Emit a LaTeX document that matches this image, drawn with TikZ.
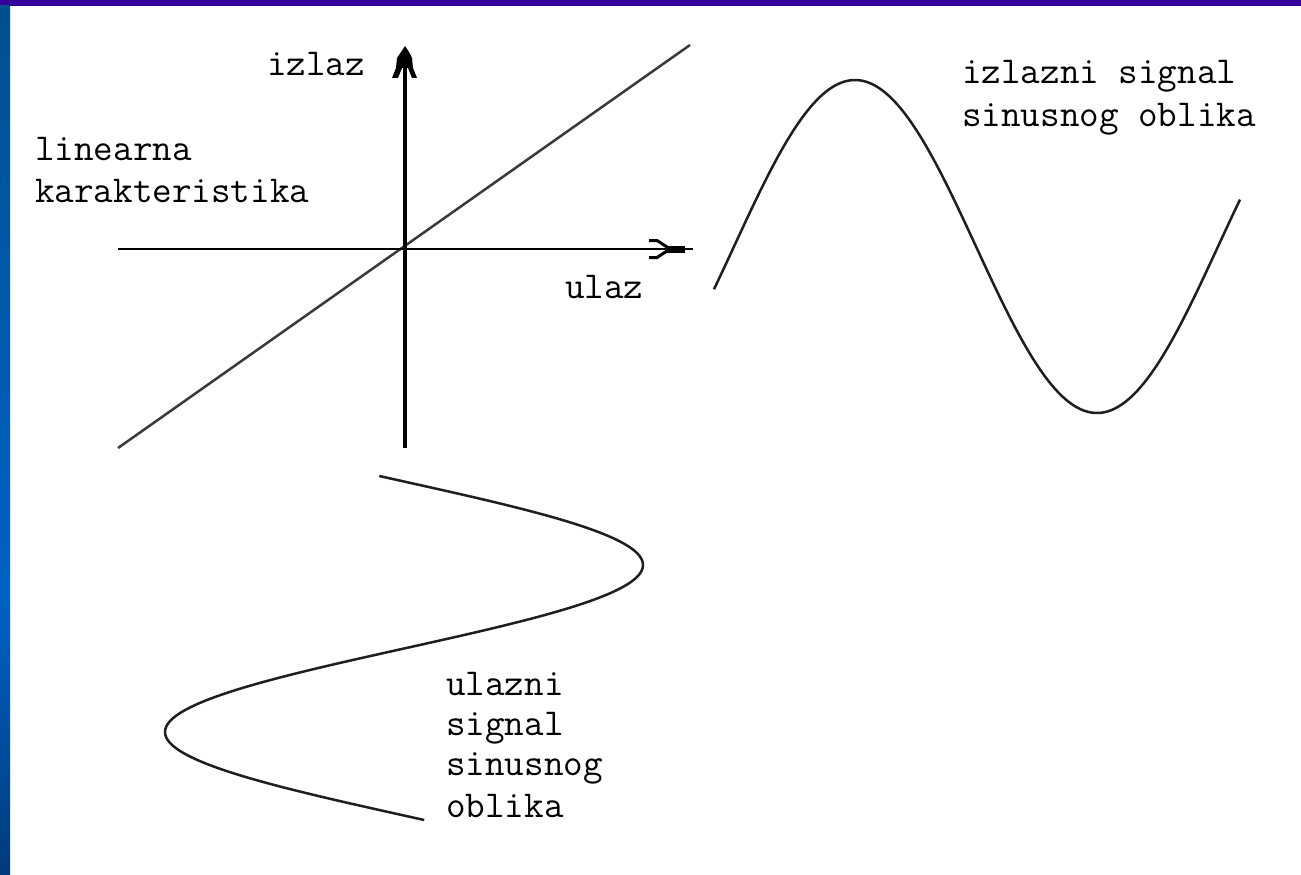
\documentclass[tikz,border=0pt]{standalone}
\usepackage{fontspec}
\definecolor{topbar}{HTML}{330099}
\definecolor{bartop}{HTML}{00508F}
\definecolor{barmid}{HTML}{0062C6}
\definecolor{barbot}{HTML}{003A7A}
\definecolor{diagcol}{HTML}{3A3A3A}
\definecolor{curvecol}{HTML}{1E1E1E}
\pgfdeclareverticalshading{leftbar}{100bp}{color(0bp)=(barbot); color(25bp)=(barbot); color(41bp)=(barmid); color(75bp)=(bartop); color(100bp)=(bartop)}
\begin{document}
\begin{tikzpicture}[x=1pt,y=-1pt,
  lab/.style={inner sep=0pt,anchor=base west,font=\ttfamily\fontsize{38}{41}\selectfont},
  curve/.style={draw=curvecol,line width=2.5pt,line join=round},
  axis/.style={draw=black,line cap=butt}]
\useasboundingbox (0,0) rectangle (1301,875);
\fill[white] (0,0) rectangle (1301,875);
% frame bars
\fill[topbar] (0,0) rectangle (1301,6);
\shade[shading=leftbar] (0,6) rectangle (10,875);
% coordinates
\coordinate (origin) at (405,249);
\coordinate (vbot) at (405,448);
\coordinate (vtop) at (405,50);
\coordinate (hleft) at (118,249);
\coordinate (hright) at (693,249);
\coordinate (dstart) at (118,448);
\coordinate (dend) at (690,45);
% characteristic line
\draw[draw=diagcol,line width=2.5pt] (dstart) -- (dend);
% axes
\draw[axis,line width=3.5pt] (vbot) -- (vtop);
\draw[axis,line width=2pt] (hleft) -- (hright);
% vertical arrow head
\fill (405,46) -- (409,52) -- (412,58) -- (413,68) -- (417,78) -- (412,78) -- (408,68) -- (402,68) -- (398,78) -- (392,78) -- (396,68) -- (397,58) -- (401,52) -- cycle;
% horizontal arrow head
\draw[line width=3pt] (649,240.5) -- (657,240.5) -- (667,247);
\draw[line width=3pt] (649,257.5) -- (657,257.5) -- (667,251);
\fill (665,245.5) rectangle (685,252.5);
% output signal
\draw[curve] plot[domain=714:1240,samples=160] (\x,{246.5-166.5*cos((\x-855)/242*180)});
% input signal
\draw[curve] plot[domain=476:820,samples=160] ({404+239*cos((\x-565)/167*180)},\x);
% labels
\node[lab] (izlaz) at (267,76) {izlaz};
\node[lab] (ulaz) at (565,298) {ulaz};
\node[lab] (lin1) at (35,160) {linearna};
\node[lab] (lin2) at (35,202) {karakteristika};
\node[lab] (out1) at (962,84) {izlazni signal};
\node[lab] (out2) at (962,126) {sinusnog oblika};
\node[lab] (in1) at (446,695) {ulazni};
\node[lab] (in2) at (446,735) {signal};
\node[lab] (in3) at (446,775) {sinusnog};
\node[lab] (in4) at (446,817) {oblika};
\end{tikzpicture}
\end{document}
